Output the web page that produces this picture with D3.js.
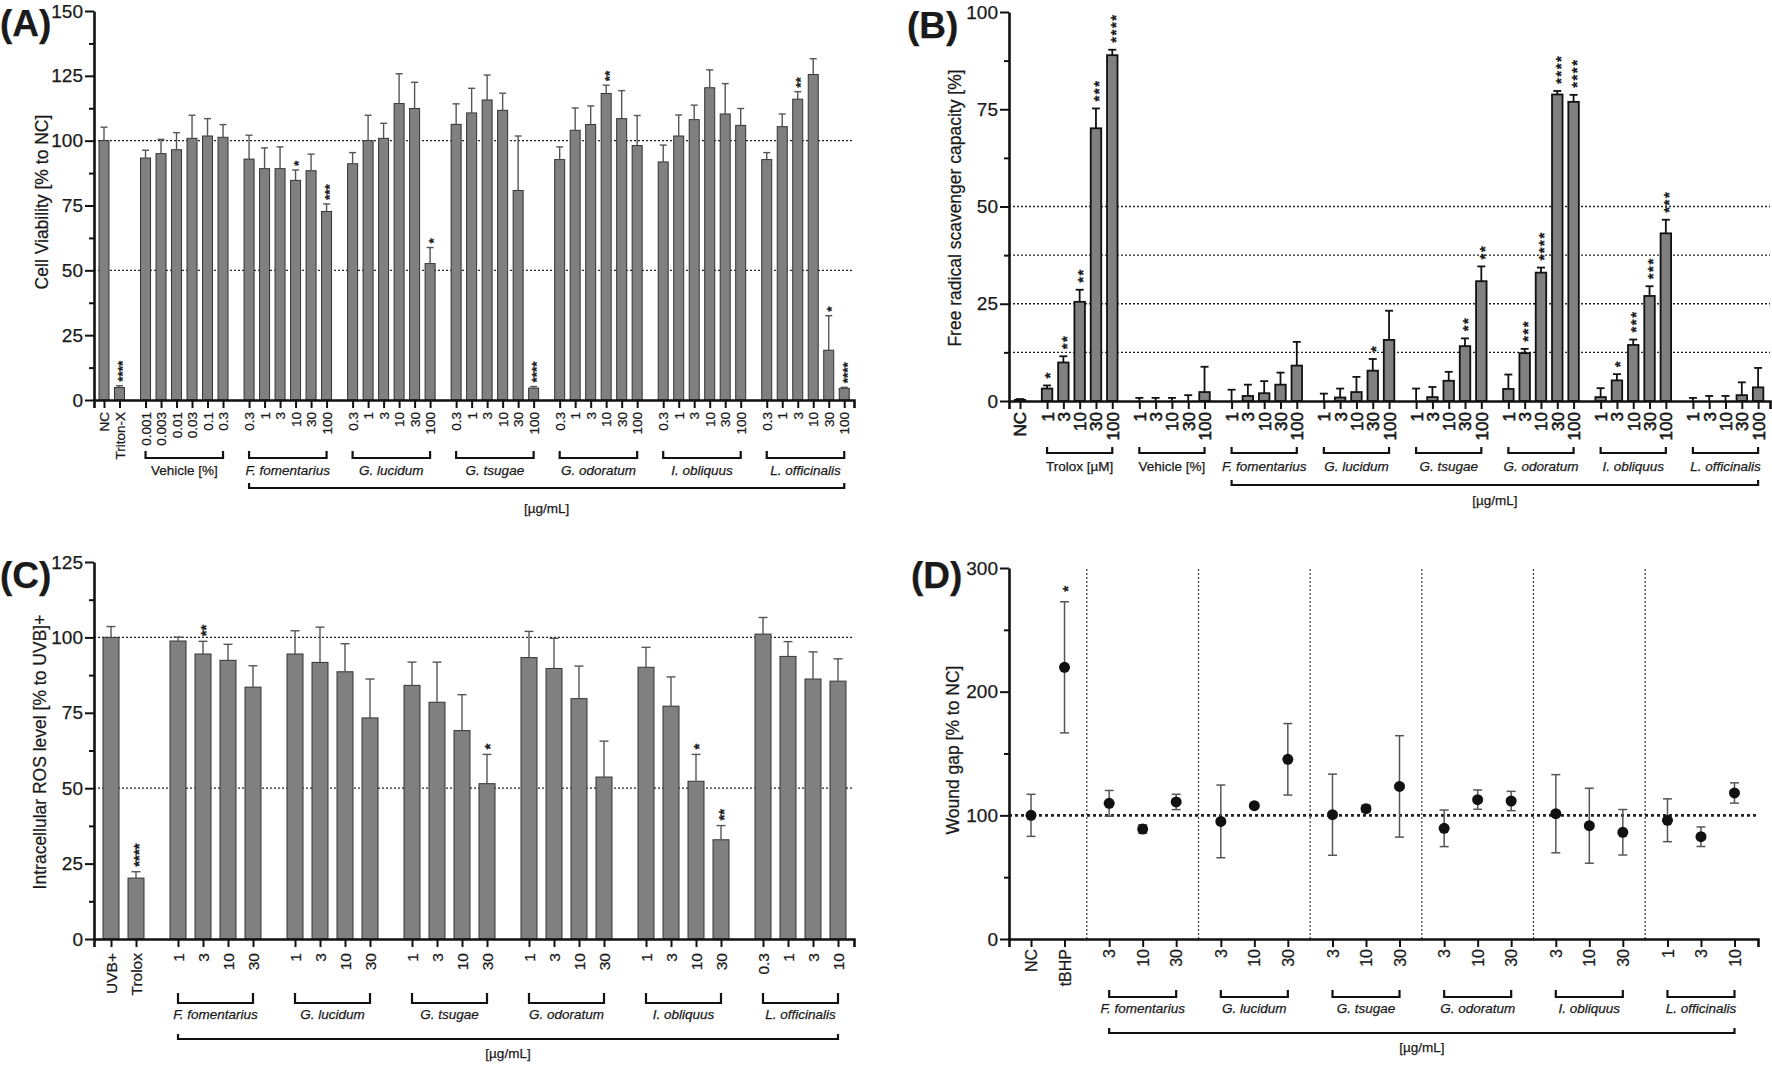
<!DOCTYPE html>
<html>
<head>
<meta charset="utf-8">
<script src="https://cdn.jsdelivr.net/npm/d3@7"></script>
<style>
  body { margin: 0; background: #fff; }
  text { font-family: "Liberation Sans", Arial, Helvetica, sans-serif; fill: #1a1a1a;
         stroke: #1a1a1a; stroke-width: 0.25px; }
</style>
</head>
<body>
<svg id="fig" width="1772" height="1079"></svg>
<script>
// ---------------- data ----------------
var extracts = ["F. fomentarius", "G. lucidum", "G. tsugae", "G. odoratum", "I. obliquus", "L. officinalis"];

// (A) cell viability [% to NC]
var aCtrlLabels = ["NC", "Triton-X"];
var aCtrlMean = [100, 4.8];
var aCtrlSd = [5.2, 0.7];
var aCtrlSig = ["", "****"];
var aVehLabels = ["0.001", "0.003", "0.01", "0.03", "0.1", "0.3"];
var aVehMean = [93.3, 95.0, 96.5, 100.9, 101.8, 101.3];
var aVehSd = [3.0, 5.5, 6.6, 8.9, 6.7, 4.9];
var aConc = ["0.3", "1", "3", "10", "30", "100"];
var aMean = [
  [92.9, 89.2, 89.2, 84.7, 88.4, 72.7],
  [91.1, 100.0, 100.9, 114.3, 112.4, 52.6],
  [106.3, 110.7, 115.7, 111.7, 80.8, 4.6],
  [92.7, 104.0, 106.2, 118.2, 108.5, 98.1],
  [91.8, 101.8, 108.1, 120.4, 110.3, 105.9],
  [92.7, 105.4, 116.0, 125.5, 19.2, 4.5]
];
var aSd = [
  [9.2, 8.0, 8.4, 4.0, 6.4, 2.9],
  [4.3, 9.8, 5.8, 11.5, 10.1, 6.2],
  [7.9, 9.5, 9.6, 6.6, 21.0, 0.6],
  [4.9, 8.6, 7.2, 3.2, 10.8, 11.6],
  [6.5, 8.1, 5.6, 6.9, 11.7, 6.5],
  [2.7, 4.9, 2.9, 6.1, 13.3, 0.4]
];
var aSig = [
  ["", "", "", "*", "", "***"],
  ["", "", "", "", "", "*"],
  ["", "", "", "", "", "****"],
  ["", "", "", "**", "", ""],
  ["", "", "", "", "", ""],
  ["", "", "**", "", "*", "****"]
];

// (B) free radical scavenger capacity [%]
var bCtrlLabels = ["NC"];
var bCtrlMean = [0.3];
var bCtrlSd = [0.2];
var bConc = ["1", "3", "10", "30", "100"];
var bTroloxMean = [3.2, 9.9, 25.5, 70.1, 88.9];
var bTroloxSd = [0.8, 1.6, 3.1, 5.1, 1.4];
var bTroloxSig = ["*", "**", "**", "***", "****"];
var bVehMean = [0, 0, 0, 0, 2.3];
var bVehSd = [0.8, 0.8, 0.8, 1.5, 6.5];
var bMean = [
  [0, 1.3, 2.0, 4.2, 9.1],
  [0, 0.9, 2.3, 7.8, 15.7],
  [0, 1.0, 5.2, 14.1, 30.8],
  [3.1, 12.3, 33.0, 78.8, 76.9],
  [1.0, 5.3, 14.4, 27.0, 43.1],
  [0, 0, 0, 1.5, 3.5]
];
var bSd = [
  [2.9, 2.9, 3.1, 3.1, 6.1],
  [1.9, 2.3, 3.9, 3.0, 7.5],
  [3.2, 2.6, 2.3, 2.0, 3.8],
  [3.7, 1.1, 1.3, 0.9, 1.8],
  [2.3, 1.6, 1.4, 2.5, 3.5],
  [0.8, 1.3, 1.3, 3.3, 5.0]
];
var bSig = [
  ["", "", "", "", ""],
  ["", "", "", "*", ""],
  ["", "", "", "**", "**"],
  ["", "***", "****", "****", "****"],
  ["", "*", "***", "***", "***"],
  ["", "", "", "", ""]
];

// (C) intracellular ROS level [% to UVB]+
var cCtrlLabels = ["UVB+", "Trolox"];
var cCtrlMean = [100, 20.2];
var cCtrlSd = [3.6, 2.1];
var cCtrlSig = ["", "****"];
var cConc = [
  ["1", "3", "10", "30"], ["1", "3", "10", "30"], ["1", "3", "10", "30"],
  ["1", "3", "10", "30"], ["1", "3", "10", "30"], ["0.3", "1", "3", "10"]
];
var cMean = [
  [98.8, 94.5, 92.4, 83.5],
  [94.5, 91.7, 88.6, 73.3],
  [84.1, 78.5, 69.1, 51.5],
  [93.3, 89.7, 79.7, 53.7],
  [90.1, 77.2, 52.3, 32.9],
  [101.1, 93.7, 86.2, 85.5]
];
var cSd = [
  [1.3, 4.2, 5.3, 7.1],
  [7.7, 11.7, 9.3, 12.9],
  [7.7, 13.3, 11.9, 9.7],
  [8.7, 10.0, 10.8, 11.9],
  [6.6, 9.7, 8.9, 4.7],
  [5.5, 4.9, 9.0, 7.4]
];
var cSig = [
  ["", "**", "", ""],
  ["", "", "", ""],
  ["", "", "", "*"],
  ["", "", "", ""],
  ["", "", "*", "**"],
  ["", "", "", ""]
];

// (D) wound gap [% to NC]
var dCtrlLabels = ["NC", "tBHP"];
var dCtrlMean = [100, 219.7];
var dCtrlSd = [17, 53];
var dCtrlSig = ["", "*"];
var dConc = [
  ["3", "10", "30"], ["3", "10", "30"], ["3", "10", "30"],
  ["3", "10", "30"], ["3", "10", "30"], ["1", "3", "10"]
];
var dMean = [
  [109.7, 88.9, 110.8],
  [95.1, 107.8, 145.3],
  [100.5, 105.4, 123.4],
  [89.5, 112.7, 111.6],
  [101.3, 91.6, 86.3],
  [96.0, 82.7, 118.1]
];
var dSd = [
  [10.4, 3.4, 6.2],
  [29.4, 1.7, 28.9],
  [32.8, 2.9, 41.0],
  [14.8, 7.8, 7.8],
  [31.6, 30.3, 18.4],
  [17.3, 7.9, 8.2]
];

// ---------------- helpers ----------------
var svg = d3.select("#fig");
svg.append("rect").attr("width", 1772).attr("height", 1079).attr("fill", "#fff");

function makeItems(groups, gap) {
  var items = [], idx = 0;
  groups.forEach(function (g, gi) {
    g.labels.forEach(function (l, j) {
      items.push({ p: idx + gi * gap, label: l, mean: g.mean[j], sd: g.sd[j],
                   sig: g.sig ? g.sig[j] : "", group: gi });
      idx++;
    });
  });
  return items;
}

function extractGroups(conc, mean, sd, sig) {
  return extracts.map(function (e, i) {
    return { labels: Array.isArray(conc[0]) ? conc[i] : conc, mean: mean[i], sd: sd[i],
             sig: sig ? sig[i] : null, bracket: e, italic: true, big: true };
  });
}

function panel(c) {
  var g = svg.append("g");
  var items = makeItems(c.groups, c.gap);
  var x = d3.scaleLinear().domain(c.xDomain).range(c.xRange);
  var y = d3.scaleLinear().domain(c.yDomain).range(c.yRange);
  var y0 = c.yRange[0];

  // dotted reference lines
  (c.refLines || []).forEach(function (v) {
    g.append("line").attr("x1", c.xRange[0]).attr("x2", c.xRange[1])
      .attr("y1", y(v)).attr("y2", y(v))
      .attr("stroke", "#222").attr("stroke-width", c.refW || 1.3)
      .attr("stroke-dasharray", c.refDash || "2,2");
  });

  // vertical separators (panel D)
  if (c.separators) {
    c.groups.forEach(function (grp, gi) {
      if (gi === 0) return;
      var prev = items.filter(function (d) { return d.group === gi - 1; });
      var cur = items.filter(function (d) { return d.group === gi; });
      var px = (prev[prev.length - 1].p + cur[0].p) / 2;
      g.append("line").attr("x1", x(px)).attr("x2", x(px))
        .attr("y1", y0).attr("y2", c.yRange[1])
        .attr("stroke", "#333").attr("stroke-width", 1.2).attr("stroke-dasharray", "2,2");
    });
  }

  if (c.type === "bar") {
    g.selectAll("rect.bar").data(items).enter().append("rect")
      .attr("class", "bar")
      .attr("x", function (d) { return x(d.p) - c.barW / 2; })
      .attr("y", function (d) { return y(d.mean); })
      .attr("width", c.barW)
      .attr("height", function (d) { return y0 - y(d.mean); })
      .attr("fill", "#808080").attr("stroke", c.barStroke).attr("stroke-width", c.barStrokeW);

    var eb = g.selectAll("g.err").data(items).enter().append("g")
      .attr("stroke", c.errColor).attr("stroke-width", c.errW);
    eb.append("line")
      .attr("x1", function (d) { return x(d.p); }).attr("x2", function (d) { return x(d.p); })
      .attr("y1", function (d) { return y(d.mean); })
      .attr("y2", function (d) { return y(d.mean + d.sd); });
    eb.append("line")
      .attr("x1", function (d) { return x(d.p) - c.capW / 2; })
      .attr("x2", function (d) { return x(d.p) + c.capW / 2; })
      .attr("y1", function (d) { return y(d.mean + d.sd); })
      .attr("y2", function (d) { return y(d.mean + d.sd); });
  } else {
    var eb2 = g.selectAll("g.err").data(items).enter().append("g")
      .attr("stroke", c.errColor).attr("stroke-width", c.errW);
    eb2.append("line")
      .attr("x1", function (d) { return x(d.p); }).attr("x2", function (d) { return x(d.p); })
      .attr("y1", function (d) { return y(d.mean - d.sd); })
      .attr("y2", function (d) { return y(d.mean + d.sd); });
    [-1, 1].forEach(function (s) {
      eb2.append("line")
        .attr("x1", function (d) { return x(d.p) - c.capW / 2; })
        .attr("x2", function (d) { return x(d.p) + c.capW / 2; })
        .attr("y1", function (d) { return y(d.mean + s * d.sd); })
        .attr("y2", function (d) { return y(d.mean + s * d.sd); });
    });
    g.selectAll("circle.pt").data(items).enter().append("circle")
      .attr("cx", function (d) { return x(d.p); })
      .attr("cy", function (d) { return y(d.mean); })
      .attr("r", 5.5).attr("fill", "#111");
  }

  // significance stars
  g.selectAll("text.sig").data(items.filter(function (d) { return d.sig; })).enter()
    .append("text")
    .attr("transform", function (d) {
      return "translate(" + x(d.p) + "," + (y(d.mean + d.sd) - c.sigGap) + ") rotate(-90)";
    })
    .attr("dy", "0.55em")
    .attr("font-size", c.sigSize).attr("font-weight", "bold")
    .attr("letter-spacing", c.sigSpacing || 0)
    .text(function (d) { return d.sig; });

  // x axis
  var xa = g.append("g").attr("transform", "translate(0," + y0 + ")")
    .call(d3.axisBottom(x).tickValues(items.map(function (d) { return d.p; }))
      .tickFormat(function (d, i) { return items[i].label; })
      .tickSizeOuter(0).tickSize(8));
  xa.attr("font-size", c.xFont);
  xa.select(".domain").attr("stroke", "#111").attr("stroke-width", 2.6);
  xa.selectAll(".tick line").attr("stroke", "#111").attr("stroke-width", 2);
  xa.selectAll(".tick text")
    .attr("transform", "rotate(-90)").attr("x", -c.xLabOff).attr("y", 0)
    .attr("dy", "0.35em").style("text-anchor", "end")
    .style("stroke-width", c.xStroke || 0.25);

  // y axis: minor then major
  var ym = g.append("g").attr("transform", "translate(" + c.xRange[0] + ",0)")
    .call(d3.axisLeft(y).tickValues(c.yMinor).tickSize(5).tickFormat(""));
  ym.select(".domain").remove();
  ym.selectAll(".tick line").attr("stroke", "#111").attr("stroke-width", 2);
  var ya = g.append("g").attr("transform", "translate(" + c.xRange[0] + ",0)")
    .call(d3.axisLeft(y).tickValues(c.yMajor).tickSize(9).tickSizeOuter(0).tickPadding(2));
  ya.attr("font-size", 19);
  ya.select(".domain").attr("stroke", "#111").attr("stroke-width", 2.6);
  ya.selectAll(".tick line").attr("stroke", "#111").attr("stroke-width", 2);

  // y title
  g.append("text")
    .attr("transform", "translate(" + c.titleX + "," + c.titleY + ") rotate(-90)")
    .attr("text-anchor", "middle").attr("dy", "0.35em").attr("font-size", 17.5)
    .text(c.title);

  // panel letter
  g.append("text").attr("x", c.letterX).attr("y", c.letterY)
    .attr("font-size", 37).attr("font-weight", "bold").text(c.letter);

  // brackets
  function bracketPath(x1, x2, yy, t) {
    return "M" + x1 + "," + (yy - t) + "V" + yy + "H" + x2 + "V" + (yy - t);
  }
  var bigItems = [];
  c.groups.forEach(function (grp, gi) {
    if (!grp.bracket) return;
    var gi_items = items.filter(function (d) { return d.group === gi; });
    var x1 = x(gi_items[0].p), x2 = x(gi_items[gi_items.length - 1].p);
    g.append("path").attr("d", bracketPath(x1, x2, y0 + c.br.small, c.br.tick))
      .attr("fill", "none").attr("stroke", "#111").attr("stroke-width", 2.2);
    g.append("text").attr("x", (x1 + x2) / 2).attr("y", y0 + c.br.label)
      .attr("text-anchor", "middle").attr("font-size", 13.5)
      .attr("font-style", grp.italic ? "italic" : "normal")
      .text(grp.bracket);
    if (grp.big) bigItems = bigItems.concat(gi_items);
  });
  if (bigItems.length) {
    var bx1 = x(bigItems[0].p), bx2 = x(bigItems[bigItems.length - 1].p);
    g.append("path").attr("d", bracketPath(bx1, bx2, y0 + c.br.big, 5))
      .attr("fill", "none").attr("stroke", "#111").attr("stroke-width", 2.2);
    g.append("text").attr("x", (bx1 + bx2) / 2).attr("y", y0 + c.br.unit)
      .attr("text-anchor", "middle").attr("font-size", 13.5).text("[µg/mL]");
  }
}

// ---------------- panels ----------------
var ticks25 = [0, 25, 50, 75, 100, 125, 150];
var minor25 = [12.5, 37.5, 62.5, 87.5, 112.5, 137.5];

panel({
  type: "bar", letter: "(A)", letterX: 0, letterY: 36,
  groups: [{ labels: aCtrlLabels, mean: aCtrlMean, sd: aCtrlSd, sig: aCtrlSig },
           { labels: aVehLabels, mean: aVehMean, sd: aVehSd, bracket: "Vehicle [%]", italic: false }]
          .concat(extractGroups(aConc, aMean, aSd, aSig)),
  gap: 0.68, xDomain: [-0.645, 48.39], xRange: [94, 854],
  yDomain: [0, 150], yRange: [400, 11], yMajor: ticks25, yMinor: minor25,
  refLines: [50, 100], barW: 10, capW: 7, barStroke: "#333", barStrokeW: 1,
  errColor: "#555", errW: 1.4, sigGap: 4, sigSize: 13.5, xFont: 13.5, xLabOff: 12,
  title: "Cell Viability [% to NC]", titleX: 42, titleY: 202,
  br: { small: 58, tick: 7, label: 75, big: 88, unit: 113 }
});

panel({
  type: "bar", letter: "(B)", letterX: 907, letterY: 38,
  groups: [{ labels: bCtrlLabels, mean: bCtrlMean, sd: bCtrlSd },
           { labels: bConc, mean: bTroloxMean, sd: bTroloxSd, sig: bTroloxSig, bracket: "Trolox [µM]", italic: false },
           { labels: bConc, mean: bVehMean, sd: bVehSd, bracket: "Vehicle [%]", italic: false }]
          .concat(extractGroups(bConc, bMean, bSd, bSig)),
  gap: 0.66, xDomain: [-0.675, 46.01], xRange: [1009, 1770],
  yDomain: [0, 100], yRange: [401, 12], yMajor: [0, 25, 50, 75, 100], yMinor: [12.5, 37.5, 62.5, 87.5],
  refLines: [12.5, 25, 37.5, 50], barW: 10.5, capW: 8, barStroke: "#111", barStrokeW: 1.8,
  errColor: "#111", errW: 1.8, sigGap: 7, sigSize: 15, sigSpacing: 1.5, xFont: 17, xLabOff: 11, xStroke: 0.6,
  title: "Free radical scavenger capacity [%]", titleX: 955, titleY: 208,
  br: { small: 52, tick: 6, label: 70, big: 84, unit: 104 }
});

panel({
  type: "bar", letter: "(C)", letterX: 0, letterY: 588,
  groups: [{ labels: cCtrlLabels, mean: cCtrlMean, sd: cCtrlSd, sig: cCtrlSig }]
          .concat(extractGroups(cConc, cMean, cSd, cSig)),
  gap: 0.68, xDomain: [-0.68, 29.72], xRange: [94, 854],
  yDomain: [0, 125], yRange: [939, 562], yMajor: [0, 25, 50, 75, 100, 125], yMinor: [12.5, 37.5, 62.5, 87.5, 112.5],
  refLines: [50, 100], barW: 16, capW: 9, barStroke: "#333", barStrokeW: 1,
  errColor: "#555", errW: 1.4, sigGap: 5, sigSize: 15, xFont: 15.5, xLabOff: 14,
  title: "Intracellular ROS level [% to UVB]+", titleX: 40, titleY: 752,
  br: { small: 64, tick: 10, label: 80, big: 100, unit: 119 }
});

panel({
  type: "point", letter: "(D)", letterX: 911, letterY: 588,
  groups: [{ labels: dCtrlLabels, mean: dCtrlMean, sd: dCtrlSd, sig: dCtrlSig }]
          .concat(extractGroups(dConc, dMean, dSd, null)),
  gap: 0.333, xDomain: [-0.657, 21.70], xRange: [1009, 1758],
  yDomain: [0, 300], yRange: [939, 568], yMajor: [0, 100, 200, 300], yMinor: [50, 150, 250],
  refLines: [100], refW: 2.6, refDash: "3,3", separators: true,
  capW: 9, errColor: "#555", errW: 1.5, sigGap: 10, sigSize: 15, xFont: 16, xLabOff: 10,
  title: "Wound gap [% to NC]", titleX: 953, titleY: 750,
  br: { small: 58, tick: 7, label: 74, big: 94, unit: 113 }
});
</script>
</body>
</html>
